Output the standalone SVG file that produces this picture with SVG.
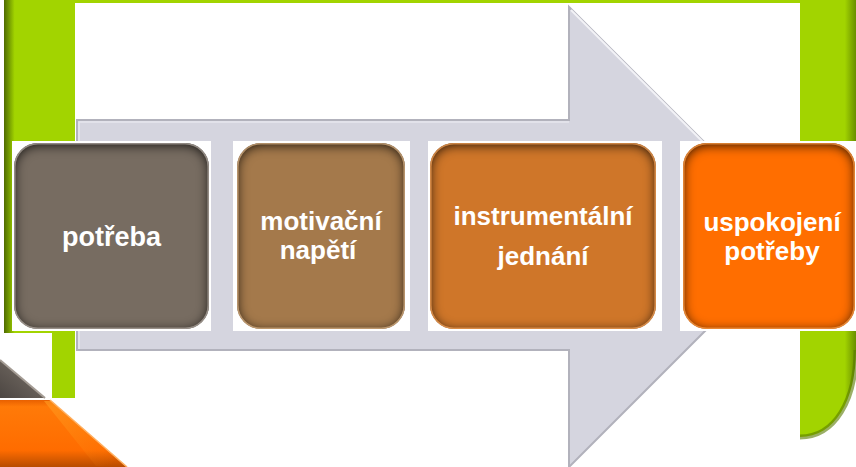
<svg xmlns="http://www.w3.org/2000/svg" width="856" height="467" viewBox="0 0 856 467">
<defs>
<style>
.lbl{font-family:"Liberation Sans",Arial,sans-serif;font-weight:bold;font-size:26px;fill:#ffffff;text-anchor:middle}
.wb{fill:#ffffff}
.box{filter:url(#inner)}
.rim{fill:none;stroke-width:1.6}
</style>
<filter id="inner" x="-15%" y="-15%" width="130%" height="130%" color-interpolation-filters="sRGB">
<feComponentTransfer in="SourceAlpha" result="inv"><feFuncA type="table" tableValues="1 0"/></feComponentTransfer>
<feOffset in="inv" dx="0" dy="2" result="off"/>
<feGaussianBlur in="off" stdDeviation="6" result="blur"/>
<feComposite in="blur" in2="SourceAlpha" operator="in" result="edge"/>
<feFlood flood-color="#000000" flood-opacity="0.85"/>
<feComposite in2="edge" operator="in" result="shadow"/>
<feMerge><feMergeNode in="SourceGraphic"/><feMergeNode in="shadow"/></feMerge>
</filter>
<linearGradient id="gLeft" gradientUnits="userSpaceOnUse" x1="4" y1="0" x2="75" y2="0">
<stop offset="0" stop-color="#4f6b00"/><stop offset="0.06" stop-color="#6e9400"/><stop offset="0.15" stop-color="#a2d400"/><stop offset="1" stop-color="#a2d400"/>
</linearGradient>
<linearGradient id="gRight" gradientUnits="userSpaceOnUse" x1="800" y1="0" x2="856" y2="0">
<stop offset="0" stop-color="#a2d400"/><stop offset="0.8" stop-color="#a2d400"/><stop offset="1" stop-color="#6a8f00"/>
</linearGradient>
<linearGradient id="gOr" x1="0" y1="0" x2="0" y2="1">
<stop offset="0" stop-color="#e86000"/><stop offset="0.1" stop-color="#ff7a08"/><stop offset="0.75" stop-color="#ff6c00"/><stop offset="1" stop-color="#b84c00"/>
</linearGradient>
<linearGradient id="gFacet" gradientUnits="userSpaceOnUse" x1="40" y1="400" x2="110" y2="467">
<stop offset="0" stop-color="#ff9a20" stop-opacity="0.7"/><stop offset="1" stop-color="#ff8a10" stop-opacity="0"/>
</linearGradient>
<linearGradient id="gGr" x1="0" y1="1" x2="1" y2="0">
<stop offset="0" stop-color="#4c4642"/><stop offset="0.6" stop-color="#6a625b"/><stop offset="1" stop-color="#b0a8a0"/>
</linearGradient>
</defs>

<!-- background -->
<g id="background">
<path d="M4,0 H856 V350 C856,400 835,437 800,437 V398 H75 V333 H4 Z" fill="url(#gRight)"/>
<rect x="4" y="0" width="71" height="333" fill="url(#gLeft)"/>
<rect x="52" y="333" width="23" height="65" fill="#a2d400"/>
<path d="M856,350 C856,400 835,437 800,437" fill="none" stroke="#587a00" stroke-width="5" opacity="0.6"/>
<rect x="75" y="3" width="725" height="464" fill="#ffffff"/>
<polygon points="0,360 45,398 0,398" fill="url(#gGr)"/>
<line x1="0" y1="360" x2="45" y2="398" stroke="#a49c94" stroke-width="2"/>
<polygon points="0,400 50,400 127,467 0,467" fill="url(#gOr)"/>
<polygon points="44,401 51,401 124,466 96,466" fill="url(#gFacet)"/>
<line x1="50" y1="400" x2="127" y2="467" stroke="#ffb060" stroke-width="1.5"/>
</g>

<!-- big arrow -->
<g id="arrow">
<polygon points="77,120 569,120 569,7 799,237 569,467 569,350 77,350" fill="#d5d5df" stroke="#b2b2bc" stroke-width="2" stroke-linejoin="miter"/>
<polyline points="79,349 79,122 569,122" fill="none" stroke="#e6e6ee" stroke-width="1.5"/>
<line x1="571" y1="10" x2="799" y2="238" stroke="#f2f2f6" stroke-width="2"/>
</g>

<!-- white backing behind boxes -->
<g id="backing">
<rect class="wb" x="12" y="141" width="199" height="190"/>
<rect class="wb" x="233" y="141" width="177" height="190"/>
<rect class="wb" x="428" y="141" width="234" height="190"/>
<rect class="wb" x="680" y="141" width="176" height="190"/>
</g>

<g id="connectors"></g>

<g id="node-potreba">
<rect class="box" x="14" y="143" width="195" height="186" rx="24" fill="#776c61"/>
<rect class="rim" x="14.8" y="143.8" width="193.4" height="184.4" rx="23" stroke="#b5ada5" stroke-opacity="0.7"/>
<text class="lbl" x="111.5" y="246" style="font-size:27px">potřeba</text>
</g>

<g id="node-motivacni">
<rect class="box" x="237" y="143" width="168" height="186" rx="24" fill="#a4794b"/>
<rect class="rim" x="237.8" y="143.8" width="166.4" height="184.4" rx="23" stroke="#dcb486" stroke-opacity="0.7"/>
<text class="lbl" x="321" y="230">motivační</text>
<text class="lbl" x="318" y="259">napětí</text>
</g>

<g id="node-instrumentalni">
<rect class="box" x="430" y="143" width="226" height="186" rx="24" fill="#cf7629"/>
<rect class="rim" x="430.8" y="143.8" width="224.4" height="184.4" rx="23" stroke="#f6a45a" stroke-opacity="0.7"/>
<text class="lbl" x="543" y="225">instrumentální</text>
<text class="lbl" x="543" y="265">jednání</text>
</g>

<g id="node-uspokojeni">
<rect class="box" x="683" y="143" width="172" height="186" rx="24" fill="#ff6e00"/>
<rect class="rim" x="683.8" y="143.8" width="170.4" height="184.4" rx="23" stroke="#ffa048" stroke-opacity="0.7"/>
<text class="lbl" x="772" y="230.5">uspokojení</text>
<text class="lbl" x="772" y="259.5">potřeby</text>
</g>
</svg>
